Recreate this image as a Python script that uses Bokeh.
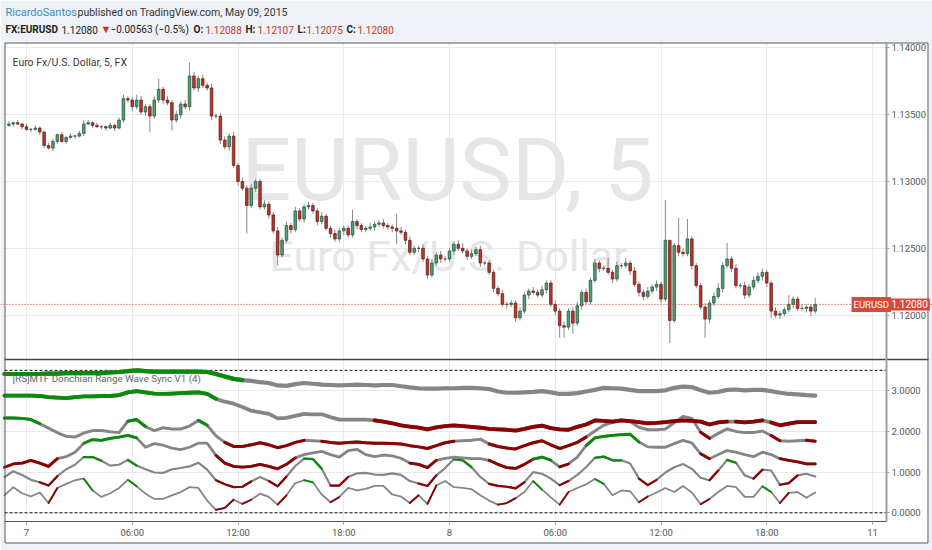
import numpy as np
from bokeh.plotting import figure
from bokeh.models import Range1d, FixedTicker, Span, Label, ColumnDataSource
from bokeh.core.properties import value
from bokeh.embed import file_html
from bokeh.resources import INLINE

FONT = "Roboto"

# EUR/USD 15 minute bars, May 6 23:00 .. May 8 20:45, prices in pips above 1.1200
first_open = 142
close_pips = [143, 144, 143, 141, 139, 139, 140, 137, 127, 125,
              130, 135, 130, 133, 134, 134, 136, 143, 144, 142,
              141, 141, 140, 142, 140, 146, 162, 161, 156, 161,
              152, 156, 149, 161, 169, 161, 159, 146, 150, 158,
              156, 179, 170, 177, 172, 170, 149, 149, 131, 126,
              134, 112, 100, 95, 82, 95, 100, 81, 83, 75,
              63, 45, 56, 67, 64, 78, 72, 81, 82, 78,
              70, 74, 65, 61, 57, 63, 65, 60, 70, 67,
              64, 65, 66, 68, 69, 67, 66, 65, 63, 62,
              56, 47, 50, 50, 42, 30, 39, 45, 42, 42,
              48, 53, 50, 48, 44, 46, 49, 39, 39, 32,
              20, 16, 8, 8, 9, -2, 3, 15, 18, 17,
              15, 19, 24, 8, 3, -8, -9, 3, -6, 7,
              17, 10, 26, 39, 35, 35, 32, 27, 37, 37,
              39, 33, 23, 17, 14, 18, 21, 23, 12, 56,
              -4, 52, 47, 46, 57, 37, 22, 6, -3, 9,
              14, 20, 37, 42, 35, 22, 22, 15, 21, 26,
              29, 32, 24, 3, 0, 1, 4, 8, 12, 5,
              5, 6, 3, 8]
wick_up = [2, 1, 2, 1, 2, 1, 2, 1, 1, 2,
           2, 1, 2, 1, 2, 1, 2, 3, 2, 1,
           2, 1, 1, 2, 1, 2, 3, 2, 2, 4,
           3, 2, 2, 3, 8, 2, 3, 2, 3, 2,
           3, 10, 3, 2, 3, 2, 3, 2, 2, 3,
           2, 3, 2, 3, 2, 3, 2, 2, 3, 2,
           2, 3, 2, 3, 2, 3, 2, 2, 3, 2,
           2, 3, 2, 2, 3, 2, 2, 2, 9, 2,
           2, 2, 3, 2, 2, 3, 2, 2, 11, 3,
           2, 3, 2, 2, 3, 2, 3, 2, 3, 2,
           2, 2, 3, 4, 2, 3, 2, 3, 2, 2,
           2, 2, 3, 2, 2, 2, 3, 2, 2, 3,
           2, 3, 2, 2, 3, 2, 3, 2, 3, 3,
           2, 3, 2, 3, 2, 2, 8, 2, 3, 2,
           4, 2, 3, 2, 2, 3, 2, 3, 2, 30,
           0, 2, 21, 3, 15, 2, 2, 2, 3, 2,
           3, 4, 3, 12, 2, 3, 2, 3, 2, 3,
           3, 3, 2, 2, 3, 2, 2, 7, 2, 2,
           3, 2, 2, 5]
wick_dn = [1, 2, 1, 2, 1, 2, 1, 2, 2, 1,
           2, 2, 1, 2, 1, 2, 1, 2, 1, 2,
           1, 2, 2, 1, 2, 1, 2, 2, 3, 2,
           2, 3, 12, 2, 2, 3, 2, 8, 2, 3,
           2, 3, 2, 3, 2, 2, 3, 2, 3, 2,
           3, 2, 3, 2, 21, 2, 3, 2, 2, 3,
           2, 8, 2, 2, 3, 2, 2, 3, 2, 2,
           3, 2, 2, 3, 2, 2, 3, 2, 2, 3,
           2, 2, 2, 3, 2, 2, 2, 3, 10, 2,
           3, 2, 2, 3, 2, 3, 2, 2, 3, 2,
           2, 3, 2, 2, 3, 2, 2, 3, 2, 2,
           3, 2, 2, 3, 2, 3, 2, 2, 3, 2,
           2, 2, 3, 2, 3, 9, 8, 2, 8, 2,
           3, 2, 2, 2, 3, 2, 2, 3, 2, 2,
           2, 3, 2, 3, 3, 2, 2, 3, 3, 2,
           17, 2, 3, 2, 2, 3, 2, 2, 14, 3,
           2, 2, 3, 2, 3, 2, 2, 3, 2, 2,
           2, 3, 3, 5, 2, 3, 2, 2, 3, 2,
           2, 3, 4, 2]

# [RS]MTF Donchian Range Wave Sync V1 (4), one value every 30 minutes from May 6 22:45
wave_a = [3.41, 3.41, 3.41, 3.41, 3.41, 3.42, 3.42, 3.43, 3.43, 3.43,
          3.43, 3.43, 3.45, 3.46, 3.48, 3.50, 3.48, 3.47, 3.47, 3.47,
          3.47, 3.47, 3.47, 3.46, 3.41, 3.35, 3.29, 3.26, 3.24, 3.21,
          3.19, 3.13, 3.12, 3.16, 3.19, 3.17, 3.15, 3.14, 3.13, 3.14,
          3.15, 3.14, 3.13, 3.14, 3.14, 3.11, 3.08, 3.06, 3.05, 3.05,
          3.06, 3.06, 3.07, 3.07, 3.06, 3.04, 2.98, 2.95, 2.95, 2.96,
          2.97, 2.99, 2.96, 2.92, 2.92, 2.94, 2.98, 3.02, 3.07, 3.06,
          3.05, 3.02, 2.99, 2.99, 2.99, 3.01, 3.07, 3.10, 3.09, 3.01,
          2.95, 2.97, 3.02, 3.03, 3.01, 3.02, 3.02, 2.99, 2.95, 2.92,
          2.91, 2.89, 2.88]
wave_b = [2.88, 2.88, 2.88, 2.88, 2.87, 2.84, 2.83, 2.82, 2.84, 2.86,
          2.86, 2.87, 2.87, 2.89, 2.96, 2.99, 2.96, 2.93, 2.92, 2.93,
          2.94, 2.95, 2.96, 2.92, 2.80, 2.73, 2.68, 2.60, 2.51, 2.47,
          2.43, 2.32, 2.33, 2.38, 2.43, 2.42, 2.42, 2.35, 2.29, 2.29,
          2.29, 2.29, 2.27, 2.24, 2.20, 2.15, 2.12, 2.09, 2.05, 2.10,
          2.13, 2.15, 2.13, 2.11, 2.09, 2.06, 2.05, 2.04, 2.02, 2.06,
          2.11, 2.14, 2.08, 2.05, 2.04, 2.11, 2.17, 2.27, 2.26, 2.24,
          2.27, 2.25, 2.23, 2.20, 2.21, 2.23, 2.25, 2.27, 2.26, 2.24,
          2.17, 2.22, 2.24, 2.24, 2.22, 2.24, 2.27, 2.22, 2.15, 2.19,
          2.23, 2.23, 2.23]
wave_c = [2.33, 2.33, 2.32, 2.29, 2.19, 2.08, 1.97, 1.88, 1.86, 1.96,
          2.02, 2.02, 1.99, 1.97, 2.25, 2.29, 2.12, 2.02, 2.09, 2.06,
          2.06, 2.13, 2.27, 2.15, 1.89, 1.73, 1.63, 1.63, 1.67, 1.72,
          1.67, 1.60, 1.65, 1.73, 1.78, 1.77, 1.76, 1.73, 1.71, 1.73,
          1.74, 1.72, 1.71, 1.71, 1.70, 1.69, 1.65, 1.62, 1.58, 1.65,
          1.72, 1.76, 1.77, 1.78, 1.81, 1.69, 1.63, 1.59, 1.57, 1.65,
          1.72, 1.77, 1.67, 1.58, 1.65, 1.73, 1.86, 2.01, 2.15, 2.22,
          2.27, 2.24, 2.10, 2.04, 2.04, 2.06, 2.21, 2.37, 2.32, 1.98,
          1.83, 1.95, 2.06, 2.00, 1.97, 1.97, 2.01, 1.90, 1.77, 1.76,
          1.77, 1.78, 1.76]
wave_d = [1.12, 1.20, 1.22, 1.29, 1.22, 1.14, 1.33, 1.38, 1.49, 1.71,
          1.80, 1.78, 1.83, 1.86, 1.90, 1.84, 1.61, 1.70, 1.66, 1.59,
          1.55, 1.61, 1.71, 1.71, 1.41, 1.22, 1.14, 1.12, 1.14, 1.19,
          1.14, 1.08, 1.19, 1.35, 1.43, 1.47, 1.51, 1.43, 1.37, 1.53,
          1.56, 1.43, 1.38, 1.42, 1.40, 1.34, 1.22, 1.19, 1.11, 1.29,
          1.34, 1.37, 1.35, 1.33, 1.33, 1.29, 1.19, 1.11, 1.09, 1.19,
          1.32, 1.37, 1.29, 1.13, 1.20, 1.37, 1.65, 1.84, 1.88, 1.90,
          1.92, 1.93, 1.74, 1.62, 1.61, 1.61, 1.70, 1.78, 1.72, 1.45,
          1.33, 1.43, 1.53, 1.49, 1.43, 1.38, 1.49, 1.43, 1.33, 1.29,
          1.25, 1.20, 1.20]
wave_e = [0.88, 1.02, 0.93, 0.81, 0.75, 0.67, 0.90, 1.07, 1.18, 1.37,
          1.37, 1.28, 1.16, 1.18, 1.30, 1.16, 1.07, 0.99, 0.98, 1.07,
          1.10, 1.14, 1.23, 1.06, 0.80, 0.70, 0.63, 0.64, 0.77, 0.88,
          0.78, 0.65, 0.89, 1.15, 1.33, 1.32, 1.08, 0.67, 0.67, 0.88,
          0.97, 0.98, 0.94, 0.93, 0.97, 0.93, 0.78, 0.72, 0.66, 0.92,
          1.10, 1.32, 1.29, 1.12, 0.88, 0.71, 0.66, 0.64, 0.60, 0.75,
          1.00, 0.96, 0.84, 0.68, 0.78, 0.93, 1.12, 1.35, 1.38, 1.29,
          1.29, 1.21, 0.84, 0.68, 0.81, 0.99, 1.12, 1.20, 1.08, 0.86,
          0.80, 1.04, 1.30, 1.23, 0.92, 0.84, 1.06, 1.04, 0.69, 0.73,
          0.92, 0.96, 0.89]
wave_f = [0.43, 0.63, 0.48, 0.40, 0.50, 0.24, 0.61, 0.71, 0.80, 0.84,
          0.55, 0.39, 0.48, 0.61, 0.81, 0.65, 0.47, 0.34, 0.34, 0.43,
          0.51, 0.63, 0.61, 0.30, 0.07, 0.12, 0.32, 0.22, 0.32, 0.47,
          0.39, 0.20, 0.43, 0.73, 0.80, 0.75, 0.45, 0.26, 0.39, 0.61,
          0.55, 0.59, 0.66, 0.66, 0.45, 0.40, 0.24, 0.43, 0.22, 0.67,
          0.78, 0.63, 0.61, 0.58, 0.43, 0.30, 0.20, 0.24, 0.36, 0.51,
          0.78, 0.57, 0.38, 0.20, 0.51, 0.61, 0.70, 0.83, 0.71, 0.43,
          0.55, 0.53, 0.26, 0.40, 0.50, 0.61, 0.51, 0.66, 0.50, 0.21,
          0.34, 0.51, 0.66, 0.63, 0.39, 0.39, 0.65, 0.51, 0.24, 0.49,
          0.51, 0.37, 0.50]

# colour runs along each wave: (state, points) with g = top of range, r = bottom, n = inside
wave_a_runs = [("g", 27), ("n", 66)]
wave_b_runs = [("g", 24), ("n", 18), ("r", 40), ("n", 1), ("r", 3), ("n", 1), ("r", 6)]
wave_c_runs = [("g", 4), ("n", 10), ("g", 2), ("n", 6), ("g", 1), ("n", 2), ("r", 9), ("n", 2),
               ("r", 15), ("n", 4), ("r", 11), ("n", 13), ("r", 1), ("n", 7), ("r", 1), ("n", 3), ("r", 2)]
wave_d_runs = [("r", 6), ("n", 3), ("g", 6), ("n", 9), ("r", 9), ("n", 13), ("r", 3), ("n", 6), ("r", 5),
               ("g", 2), ("n", 1), ("r", 1), ("n", 2), ("g", 6), ("n", 7), ("r", 1), ("n", 8), ("r", 5)]
wave_e_runs = [("n", 4), ("r", 2), ("n", 3), ("g", 2), ("n", 3), ("g", 1), ("n", 9), ("r", 4), ("n", 2),
               ("r", 2), ("n", 2), ("g", 2), ("n", 1), ("r", 2), ("n", 8), ("r", 2), ("n", 2), ("g", 2),
               ("n", 2), ("r", 4), ("n", 4), ("r", 1), ("n", 3), ("g", 3), ("n", 2), ("r", 2), ("n", 6),
               ("r", 1), ("n", 1), ("g", 1), ("n", 2), ("r", 1), ("n", 2), ("r", 2), ("n", 3)]
wave_f_runs = [("n", 5), ("r", 1), ("n", 3), ("g", 1), ("n", 4), ("g", 1), ("n", 9), ("r", 2), ("n", 1),
               ("r", 1), ("n", 3), ("r", 1), ("n", 2), ("g", 1), ("n", 2), ("r", 1), ("n", 8), ("r", 1),
               ("n", 1), ("r", 1), ("n", 7), ("r", 2), ("n", 2), ("g", 1), ("n", 2), ("r", 1), ("n", 3),
               ("g", 1), ("n", 4), ("r", 1), ("n", 6), ("r", 1), ("n", 6), ("g", 1), ("n", 1), ("r", 1), ("n", 4)]

x_ticks = [0, 6, 12, 18, 24, 30, 36, 42, 48]
x_tick_labels = ["7", "06:00", "12:00", "18:00", "8", "06:00", "12:00", "18:00", "11"]
price_ticks = [1.12, 1.125, 1.13, 1.135, 1.14]
wave_ticks = [0, 1, 2, 3]
wave_limits = [0, 3.5]
last_price = 1.1208

# time in hours from May 7 00:00
bar_hours = -1.0 + 0.25 * np.arange(len(close_pips))
wave_hours = -1.25 + 0.5 * np.arange(len(wave_a))

close = 1.12 + np.array(close_pips) / 10000
open_ = np.concatenate([[1.12 + first_open / 10000], close[:-1]])
high = np.maximum(open_, close) + np.array(wick_up) / 10000
low = np.minimum(open_, close) - np.array(wick_dn) / 10000
rising = close >= open_

# layout in canvas pixels; the plot frame covers the whole canvas
W, H = 932, 550
px_hour = 17.625          # pixels per hour
px_price = 13360.0        # pixels per 1.0 of price
px_wave = 40.7            # pixels per wave unit
box_l, box_r, box_t, box_b = 4, 928, 42, 543
axis_x, axis_y, split = 886, 521, 359
x0 = -26 / px_hour
p_top = 1.13 + 181 / px_price
p_bot = p_top - H / px_price
w_top = 512.3 / px_wave
w_bot = w_top - H / px_wave
page_bg = "#eef1f5"


def px_to_x(px):
    return x0 + px / px_hour


def px_to_price(py):
    return p_top - py / px_price


def wave_to_price(v):
    return p_top - (w_top - v) * px_wave / px_price


p = figure(width=W, height=H, x_range=Range1d(x0, px_to_x(W)), y_range=Range1d(p_bot, p_top),
           y_axis_location="right", toolbar_location=None, output_backend="svg",
           min_border=0, background_fill_color="white", border_fill_color=page_bg)
p.extra_y_ranges = {"wave": Range1d(w_bot, w_top), "px": Range1d(H, 0)}
p.extra_x_ranges = {"px": Range1d(0, W)}
p.outline_line_color = None

grid_col = "#e9e9e9"
p.xgrid.grid_line_color = grid_col
p.ygrid.grid_line_color = grid_col

ax = p.xaxis[0]
ax.fixed_location = px_to_price(axis_y)
ax.bounds = (px_to_x(box_l), px_to_x(axis_x))
ax.ticker = FixedTicker(ticks=x_ticks)
ax.major_label_overrides = dict(zip(x_ticks, x_tick_labels))
ax.axis_line_color = "#555555"
ax.major_tick_line_color = "#a0a0a0"
ax.major_tick_in = 0
ax.major_tick_out = 3
ax.minor_tick_line_color = None
ax.major_label_standoff = 2
ax.major_label_text_font = FONT
ax.major_label_text_font_size = "9.5px"
ax.major_label_text_color = "#555555"

ay = p.yaxis[0]
ay.fixed_location = px_to_x(axis_x)
ay.bounds = (px_to_price(axis_y), px_to_price(box_t))
wave_tick_pos = [wave_to_price(v) for v in wave_ticks]
ay.ticker = FixedTicker(ticks=price_ticks + wave_tick_pos)
overrides = {t: "%.5f" % t for t in price_ticks}
overrides.update({pos: "%.4f" % v for pos, v in zip(wave_tick_pos, wave_ticks)})
ay.major_label_overrides = overrides
ay.axis_line_color = "#a0a0a0"
ay.axis_line_width = 2
ay.major_tick_line_color = "#a0a0a0"
ay.major_tick_in = 0
ay.major_tick_out = 3
ay.minor_tick_line_color = None
ay.major_label_standoff = 2
ay.major_label_text_font = FONT
ay.major_label_text_font_size = "9.5px"
ay.major_label_text_color = "#555555"

# page background around the chart box, white axis areas inside it
p.quad(left=[0, 0, 0, box_r], right=[W, W, box_l, W], top=[0, box_b, box_t, box_t],
       bottom=[box_t, H, box_b, box_b], x_range_name="px", y_range_name="px",
       fill_color=page_bg, line_color=None)
p.quad(left=[axis_x, box_l], right=[box_r, box_r], top=[box_t, axis_y], bottom=[axis_y, box_b],
       x_range_name="px", y_range_name="px", fill_color="white", line_color=None)

# watermark
wm = ColumnDataSource(dict(x=[447, 448], y=[169, 255], text=["EURUSD, 5", "Euro Fx/U.S. Dollar"],
                           size=["88px", "43px"]))
p.text(x="x", y="y", text="text", source=wm, x_range_name="px", y_range_name="px",
       text_font=value(FONT), text_font_size="size", text_color="#e6e6e6",
       text_align="center", text_baseline="middle")

p.add_layout(Label(x=12, y=62, x_range_name="px", y_range_name="px", text="Euro Fx/U.S. Dollar, 5, FX",
                   text_font=FONT, text_font_size="10.5px", text_color="#3a3a3a", text_baseline="middle"))
p.add_layout(Label(x=12, y=378, x_range_name="px", y_range_name="px",
                   text="[RS]MTF Donchian Range Wave Sync V1 (4)",
                   text_font=FONT, text_font_size="9.8px", text_color="#666666", text_baseline="middle"))

# candles
bars = ColumnDataSource(dict(t=bar_hours, h=high, l=low,
                             top=np.maximum(open_, close), bot=np.minimum(open_, close),
                             fill=np.where(rising, "#4f9e78", "#b8372d"),
                             edge=np.where(rising, "#1f4d35", "#5b1a13")))
p.segment(x0="t", y0="l", x1="t", y1="h", source=bars, line_color="#8a8a8a", line_width=1)
p.vbar(x="t", width=0.15, top="top", bottom="bot", source=bars,
       fill_color="fill", line_color="edge", line_width=0.7)

p.add_layout(Span(location=last_price, dimension="width", line_color="#c0392b",
                  line_width=1, line_dash="1 2"))

# pane separator and indicator limits
p.segment(x0=[box_l], x1=[box_r], y0=[split], y1=[split], x_range_name="px", y_range_name="px",
          line_color="#444444", line_width=1.5)
p.segment(x0=[px_to_x(box_l)] * len(wave_limits), x1=[px_to_x(axis_x)] * len(wave_limits),
          y0=wave_limits, y1=wave_limits, y_range_name="wave",
          line_color="#111111", line_width=1, line_dash="3 2")

green, red, gray = "#0a8a0a", "#8b0000", "#858585"
waves = [(wave_f, wave_f_runs, 1.8), (wave_e, wave_e_runs, 2.2), (wave_d, wave_d_runs, 2.8),
         (wave_c, wave_c_runs, 3.0), (wave_b, wave_b_runs, 3.8), (wave_a, wave_a_runs, 4.2)]
for vals, runs, lw in waves:
    p.line(wave_hours, vals, y_range_name="wave", line_color=gray, line_width=lw,
           line_join="round", line_cap="round")
    xs, ys, cs = [], [], []
    start = 0
    for state, n in runs:
        if state != "n":
            end = min(start + n, len(vals) - 1)
            if end > start:
                xs.append(list(wave_hours[start:end + 1]))
                ys.append(vals[start:end + 1])
                cs.append(green if state == "g" else red)
        start += n
    p.multi_line(xs, ys, y_range_name="wave", line_color=cs, line_width=lw,
                 line_join="round", line_cap="round")

# outer frame of the chart
p.quad(left=[box_l + 0.5], right=[box_r - 0.5], top=[box_t + 0.5], bottom=[box_b - 0.5],
       x_range_name="px", y_range_name="px", fill_color=None, line_color="#555555", line_width=1)

# price tags
p.add_layout(Label(x=851, y=last_price, x_range_name="px", text="EURUSD", text_font=FONT,
                   text_font_size="9.5px", text_color="white", text_baseline="middle",
                   background_fill_color="#d64a3b", padding=2))
p.add_layout(Label(x=889, y=last_price, x_range_name="px", text="%.5f" % last_price, text_font=FONT,
                   text_font_size="10px", text_color="white", text_baseline="middle",
                   background_fill_color="#d64a3b", padding=2))

# header
header = [
    (5, 12, "RicardoSantos", "#3a8fc4", "normal", "11px"),
    (77, 12, "published on TradingView.com, May 09, 2015", "#333333", "normal", "10.5px"),
    (5, 29, "FX:EURUSD", "#222222", "bold", "10px"),
    (61, 29, "1.12080", "#222222", "normal", "10px"),
    (100, 29, "\u25bc", "#c0392b", "normal", "11px"),
    (110, 29, "\u22120.00563 (\u22120.5%)", "#222222", "normal", "10px"),
    (193, 29, "O:", "#222222", "bold", "10px"),
    (205, 29, "1.12088", "#c0392b", "normal", "10px"),
    (245, 29, "H:", "#222222", "bold", "10px"),
    (257, 29, "1.12107", "#c0392b", "normal", "10px"),
    (297, 29, "L:", "#222222", "bold", "10px"),
    (306, 29, "1.12075", "#c0392b", "normal", "10px"),
    (346, 29, "C:", "#222222", "bold", "10px"),
    (357, 29, "1.12080", "#c0392b", "normal", "10px"),
]
for hx, hy, txt, col, style, size in header:
    p.add_layout(Label(x=hx, y=hy, x_range_name="px", y_range_name="px", text=txt, text_font=FONT,
                       text_font_size=size, text_color=col, text_font_style=style, text_baseline="middle"))

open("out.html", "w").write(file_html(p, INLINE))
